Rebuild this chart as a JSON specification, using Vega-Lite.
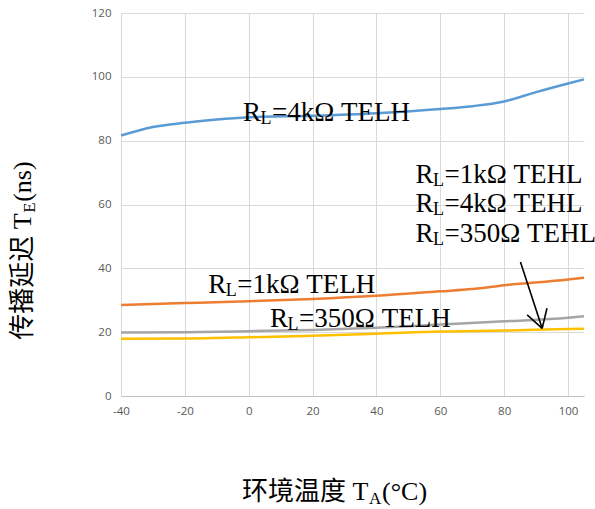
{
  "$schema": "https://vega.github.io/schema/vega-lite/v6.json",
  "autosize": {"type": "none"},
  "width": 463,
  "height": 383,
  "padding": {"left": 121, "top": 13, "right": 11, "bottom": 113},
  "background": "white",
  "view": {"stroke": null},
  "config": {
    "axis": {"labelFont": "Open Sans", "labelFontSize": 11.5, "labelColor": "#595959", "gridColor": "#D9D9D9", "gridWidth": 1, "ticks": false, "title": null}
  },
  "datasets": {
    "curves": [
      {"series": "4k TELH", "t": -40, "v": 81.6},
      {"series": "4k TELH", "t": -30, "v": 84.3},
      {"series": "4k TELH", "t": -20, "v": 85.6},
      {"series": "4k TELH", "t": -10, "v": 86.6},
      {"series": "4k TELH", "t": 0, "v": 87.3},
      {"series": "4k TELH", "t": 20, "v": 87.8},
      {"series": "4k TELH", "t": 40, "v": 88.6},
      {"series": "4k TELH", "t": 60, "v": 89.9},
      {"series": "4k TELH", "t": 70, "v": 90.8},
      {"series": "4k TELH", "t": 80, "v": 92.3},
      {"series": "4k TELH", "t": 90, "v": 95.2},
      {"series": "4k TELH", "t": 100, "v": 97.9},
      {"series": "4k TELH", "t": 105, "v": 99.2},
      {"series": "1k TELH", "t": -40, "v": 28.5},
      {"series": "1k TELH", "t": -20, "v": 29.1},
      {"series": "1k TELH", "t": 0, "v": 29.7},
      {"series": "1k TELH", "t": 20, "v": 30.4},
      {"series": "1k TELH", "t": 40, "v": 31.4},
      {"series": "1k TELH", "t": 60, "v": 32.8},
      {"series": "1k TELH", "t": 70, "v": 33.5},
      {"series": "1k TELH", "t": 80, "v": 34.7},
      {"series": "1k TELH", "t": 100, "v": 36.5},
      {"series": "1k TELH", "t": 105, "v": 37.1},
      {"series": "350 TELH", "t": -40, "v": 19.9},
      {"series": "350 TELH", "t": -20, "v": 20.0},
      {"series": "350 TELH", "t": 0, "v": 20.3},
      {"series": "350 TELH", "t": 20, "v": 20.7},
      {"series": "350 TELH", "t": 40, "v": 21.4},
      {"series": "350 TELH", "t": 60, "v": 22.4},
      {"series": "350 TELH", "t": 80, "v": 23.4},
      {"series": "350 TELH", "t": 100, "v": 24.5},
      {"series": "350 TELH", "t": 105, "v": 25.0},
      {"series": "TEHL", "t": -40, "v": 17.9},
      {"series": "TEHL", "t": -20, "v": 18.0},
      {"series": "TEHL", "t": 0, "v": 18.4},
      {"series": "TEHL", "t": 20, "v": 18.9},
      {"series": "TEHL", "t": 40, "v": 19.5},
      {"series": "TEHL", "t": 60, "v": 20.2},
      {"series": "TEHL", "t": 80, "v": 20.5},
      {"series": "TEHL", "t": 100, "v": 21.0},
      {"series": "TEHL", "t": 105, "v": 21.1}
    ],
    "labels": [
      {"text": "=4kΩ TELH", "t": -1.8, "v": 86.2},
      {"text": "=1kΩ TELH", "t": -12.7, "v": 32.3},
      {"text": "=350Ω TELH", "t": 6.7, "v": 21.6},
      {"text": "=1kΩ TEHL", "t": 52.2, "v": 66.8},
      {"text": "=4kΩ TEHL", "t": 52.2, "v": 57.7},
      {"text": "=350Ω TEHL", "t": 52.2, "v": 48.3}
    ],
    "arrow": [
      {"t": 85.1, "v": 42.0, "t2": 91.9, "v2": 21.2},
      {"t": 87.2, "v": 25.4, "t2": 91.9, "v2": 21.2},
      {"t": 93.4, "v": 27.5, "t2": 91.9, "v2": 21.2}
    ],
    "xtitle": [{"t": -2.1, "v": -32.6}],
    "ytitle": [{"t": -68.2, "v": 17.6}]
  },
  "encoding": {
    "x": {"field": "t", "type": "quantitative", "scale": {"domain": [-40, 105], "nice": false, "zero": false},
      "axis": {"values": [-40, -20, 0, 20, 40, 60, 80, 100], "domain": true, "domainColor": "#BFBFBF", "domainWidth": 1, "labelPadding": 9, "labelFlush": false, "labelExpr": "replace(datum.label, '−', '-')"}},
    "y": {"field": "v", "type": "quantitative", "scale": {"domain": [0, 120], "nice": false},
      "axis": {"values": [0, 20, 40, 60, 80, 100, 120], "domain": false, "labelPadding": 10}}
  },
  "layer": [
    {
      "data": {"name": "curves"},
      "mark": {"type": "line", "interpolate": "monotone", "strokeWidth": 2.5, "clip": false},
      "encoding": {
        "color": {"field": "series", "type": "nominal", "legend": null,
          "scale": {"domain": ["4k TELH", "1k TELH", "350 TELH", "TEHL"], "range": ["#5B9BD5", "#ED7D31", "#A5A5A5", "#FFC000"]}},
        "order": {"field": "t", "type": "quantitative"}
      }
    },
    {
      "data": {"name": "arrow"},
      "mark": {"type": "rule", "color": "black", "strokeWidth": 1.6},
      "encoding": {
        "x2": {"field": "t2"},
        "y2": {"field": "v2"}
      }
    },
    {
      "data": {"name": "labels"},
      "mark": {"type": "text", "text": "R", "font": "Liberation Serif", "fontSize": 27, "align": "left", "baseline": "alphabetic", "color": "black", "clip": false}
    },
    {
      "data": {"name": "labels"},
      "mark": {"type": "text", "text": "L", "font": "Liberation Serif", "fontSize": 18, "align": "left", "baseline": "alphabetic", "dx": 17.5, "dy": 3, "color": "black", "clip": false}
    },
    {
      "data": {"name": "labels"},
      "mark": {"type": "text", "font": "Liberation Serif", "fontSize": 27, "align": "left", "baseline": "alphabetic", "dx": 29, "color": "black", "clip": false},
      "encoding": {"text": {"field": "text"}}
    },
    {
      "data": {"name": "xtitle"},
      "mark": {"type": "text", "text": "环境温度 T", "font": "Liberation Serif, Noto Sans CJK SC", "fontSize": 26, "align": "left", "baseline": "alphabetic", "color": "black", "clip": false}
    },
    {
      "data": {"name": "xtitle"},
      "mark": {"type": "text", "text": "A", "font": "Liberation Serif", "fontSize": 17, "align": "left", "baseline": "alphabetic", "dx": 127, "dy": 4, "color": "black", "clip": false}
    },
    {
      "data": {"name": "xtitle"},
      "mark": {"type": "text", "text": "(°C)", "font": "Liberation Serif", "fontSize": 26, "align": "left", "baseline": "alphabetic", "dx": 140, "color": "black", "clip": false}
    },
    {
      "data": {"name": "ytitle"},
      "mark": {"type": "text", "text": "传播延迟 T", "angle": 270, "font": "Liberation Serif, Noto Sans CJK SC", "fontSize": 26, "align": "left", "baseline": "alphabetic", "color": "black", "clip": false}
    },
    {
      "data": {"name": "ytitle"},
      "mark": {"type": "text", "text": "E", "angle": 270, "font": "Liberation Serif", "fontSize": 17, "align": "left", "baseline": "alphabetic", "dx": 127, "dy": 4, "color": "black", "clip": false}
    },
    {
      "data": {"name": "ytitle"},
      "mark": {"type": "text", "text": "(ns)", "angle": 270, "font": "Liberation Serif", "fontSize": 26, "align": "left", "baseline": "alphabetic", "dx": 138, "color": "black", "clip": false}
    }
  ]
}
